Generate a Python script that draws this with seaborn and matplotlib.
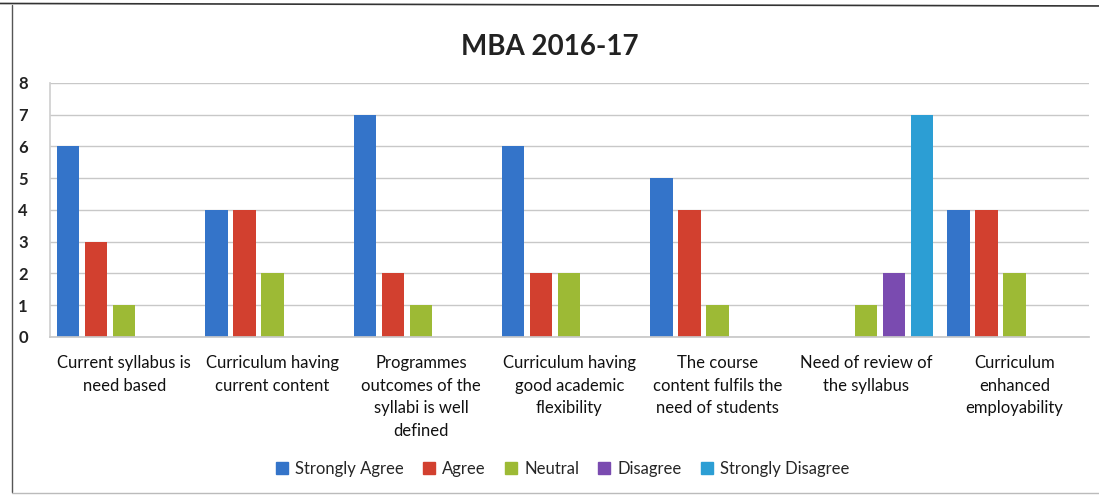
import matplotlib
matplotlib.use("Agg")
import matplotlib.pyplot as plt
import seaborn as sns
import pandas as pd
from matplotlib.lines import Line2D

categories = [
    "Current syllabus is\nneed based",
    "Curriculum having\ncurrent content",
    "Programmes\noutcomes of the\nsyllabi is well\ndefined",
    "Curriculum having\ngood academic\nflexibility",
    "The course\ncontent fulfils the\nneed of students",
    "Need of review of\nthe syllabus",
    "Curriculum\nenhanced\nemployability",
]
series = ["Strongly Agree", "Agree", "Neutral", "Disagree", "Strongly Disagree"]
strongly_agree = [6, 4, 7, 6, 5, 0, 4]
agree = [3, 4, 2, 2, 4, 0, 4]
neutral = [1, 2, 1, 2, 1, 1, 2]
disagree = [0, 0, 0, 0, 0, 2, 0]
strongly_disagree = [0, 0, 0, 0, 0, 7, 0]
yticks = [0, 1, 2, 3, 4, 5, 6, 7, 8]

colors = ["#3474C9", "#D2402F", "#9DBA35", "#7A4BB0", "#2C9ED4"]

values = [strongly_agree, agree, neutral, disagree, strongly_disagree]
rows = []
for s, vals in zip(series, values):
    for c, v in zip(categories, vals):
        rows.append({"Category": c, "Response": s, "Count": v})
df = pd.DataFrame(rows)

sns.set_theme(style="white")
plt.rcParams["font.family"] = ["Lato", "DejaVu Sans"]

fig = plt.figure(figsize=(10.99, 4.97), dpi=100)
ax = fig.add_axes([0.0455, 0.322, 0.945, 0.511])

sns.barplot(data=df, x="Category", y="Count", hue="Response", hue_order=series,
            palette=colors, saturation=1, width=0.944, gap=0.2, ax=ax, legend=False,
            edgecolor="none", linewidth=0)

ax.set_ylim(0, 8)
ax.set_xlim(-0.5, len(categories) - 0.5)
ax.set_yticks(yticks)
ax.set_yticklabels([str(t) for t in yticks], fontsize=12, fontweight="bold", color="#222222")
ax.set_xticklabels(categories, fontsize=12, color="#111111", linespacing=1.5)
ax.tick_params(axis="x", length=0, pad=13)
ax.tick_params(axis="y", length=0, pad=16)
ax.set_xlabel("")
ax.set_ylabel("")
ax.yaxis.grid(True, color="#C8C8C8", linewidth=1.0)
ax.set_axisbelow(True)
for side in ["top", "right"]:
    ax.spines[side].set_visible(False)
ax.spines["left"].set_color("#D0D0D0")
ax.spines["bottom"].set_color("#C8C8C8")

fig.text(0.5, 0.905, "MBA 2016-17", ha="center", va="center", fontsize=20,
         fontweight="bold", color="#222222")

handles = [Line2D([0], [0], marker="s", linestyle="none", markersize=8,
                  markerfacecolor=c, markeredgecolor=c) for c in colors]
fig.legend(handles, series, loc="center", bbox_to_anchor=(0.511, 0.056), ncol=5,
           frameon=False, fontsize=12, handlelength=1.0, handletextpad=0.3,
           columnspacing=1.0)

# outer frame lines of the scanned page
fig.add_artist(Line2D([0.011, 0.011], [0.01, 0.99], color="#555555", linewidth=1.0, transform=fig.transFigure))
fig.add_artist(Line2D([0.0, 1.0], [0.993, 0.988], color="#333333", linewidth=1.2, transform=fig.transFigure))
fig.add_artist(Line2D([0.011, 1.0], [0.008, 0.008], color="#BBBBBB", linewidth=1.0, transform=fig.transFigure))

fig.savefig("out.png", dpi=100, facecolor="white")
